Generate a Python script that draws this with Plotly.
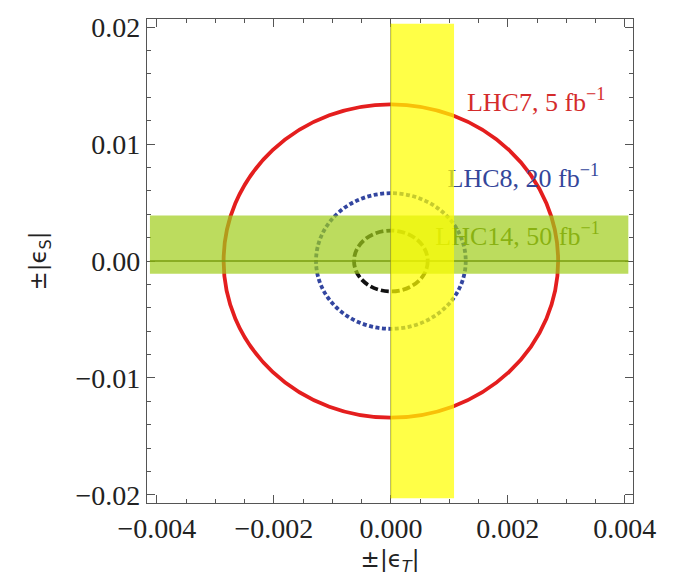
import plotly.graph_objects as go

# Projected sensitivity ellipses (semi-axes in eps_T and eps_S)
runs = ["LHC7, 5 fb<sup>−1</sup>", "LHC8, 20 fb<sup>−1</sup>", "LHC14, 50 fb<sup>−1</sup>"]
semi_T = [0.00286, 0.00128, 0.00063]
semi_S = [0.0134, 0.0058, 0.0026]
line_colors = ["#e41e1e", "#3346a0", "#111111"]
line_dash = ["solid", "4px,2.5px", "8px,3px"]

# Label anchors (left edge of each label)
label_T = [0.00130, 0.00097, 0.00076]
label_S = [0.0134, 0.0069, 0.0019]
label_colors = ["#d42b2b", "#34469a", "#557000"]

# Allowed bands from other measurements
band_T = [0.0, 0.00108]          # vertical band in eps_T
band_T_span = [-0.0203, 0.0203]
band_S = [-0.0011, 0.0039]        # horizontal band in eps_S
band_S_span = [-0.00412, 0.00406]

x_ticks = [-0.004, -0.002, 0.0, 0.002, 0.004]
y_ticks = [-0.02, -0.01, 0.0, 0.01, 0.02]
x_range = [-0.00417, 0.00414]
y_range = [-0.0207, 0.0207]

fig = go.Figure()

shapes = []
for a, b, c, d in zip(semi_T, semi_S, line_colors, line_dash):
    shapes.append(dict(type="circle", xref="x", yref="y", x0=-a, x1=a, y0=-b, y1=b,
                       line=dict(color=c, width=3.8, dash=d), layer="below"))

# green horizontal band and its central line
shapes.append(dict(type="rect", xref="x", yref="y", x0=band_S_span[0], x1=band_S_span[1],
                   y0=band_S[0], y1=band_S[1], fillcolor="rgba(159,205,26,0.7)",
                   line=dict(width=0), layer="above"))
shapes.append(dict(type="line", xref="x", yref="y", x0=band_S_span[0], x1=band_S_span[1],
                   y0=0, y1=0, line=dict(color="#7a9e10", width=1.5), layer="above"))
# yellow vertical band with its edge line
shapes.append(dict(type="line", xref="x", yref="y", x0=0, x1=0,
                   y0=band_T_span[0], y1=band_T_span[1], line=dict(color="#8c8c20", width=1), layer="above"))
shapes.append(dict(type="rect", xref="x", yref="y", x0=band_T[0], x1=band_T[1],
                   y0=band_T_span[0], y1=band_T_span[1], fillcolor="rgba(255,255,0,0.72)",
                   line=dict(width=0), layer="above"))

for name, xt, yt, col in zip(runs, label_T, label_S, label_colors):
    fig.add_trace(go.Scatter(x=[xt], y=[yt], mode="text", text=[name],
                             textposition="middle right",
                             textfont=dict(family="Liberation Serif", size=26, color=col),
                             showlegend=False, hoverinfo="skip"))

axis_common = dict(
    showgrid=False, zeroline=False, showline=True, linecolor="#555555", linewidth=1.2,
    mirror="allticks", ticks="inside", ticklen=8, tickwidth=1, tickcolor="#555555",
    tickfont=dict(family="Liberation Serif", size=28, color="#222222"),
)

fig.update_layout(
    width=675, height=580,
    margin=dict(l=147, r=42, t=15, b=77),
    paper_bgcolor="white", plot_bgcolor="white",
    shapes=shapes,
    xaxis=dict(range=x_range, tickvals=x_ticks, tickformat=".3f",
               minor=dict(dtick=0.0005, tick0=0, ticks="inside", ticklen=4, tickcolor="#555555"),
               title=dict(text="±|ϵ<sub><i>T</i></sub>|", standoff=8,
                          font=dict(family="DejaVu Sans", size=23, color="#222222")),
               **axis_common),
    yaxis=dict(range=y_range, tickvals=y_ticks, tickformat=".2f",
               minor=dict(dtick=0.002, tick0=0, ticks="inside", ticklen=4, tickcolor="#555555"),
               title=dict(text="±|ϵ<sub>S</sub>|", standoff=22,
                          font=dict(family="DejaVu Sans", size=23, color="#222222")),
               **axis_common),
)

fig.write_html("out.html")
